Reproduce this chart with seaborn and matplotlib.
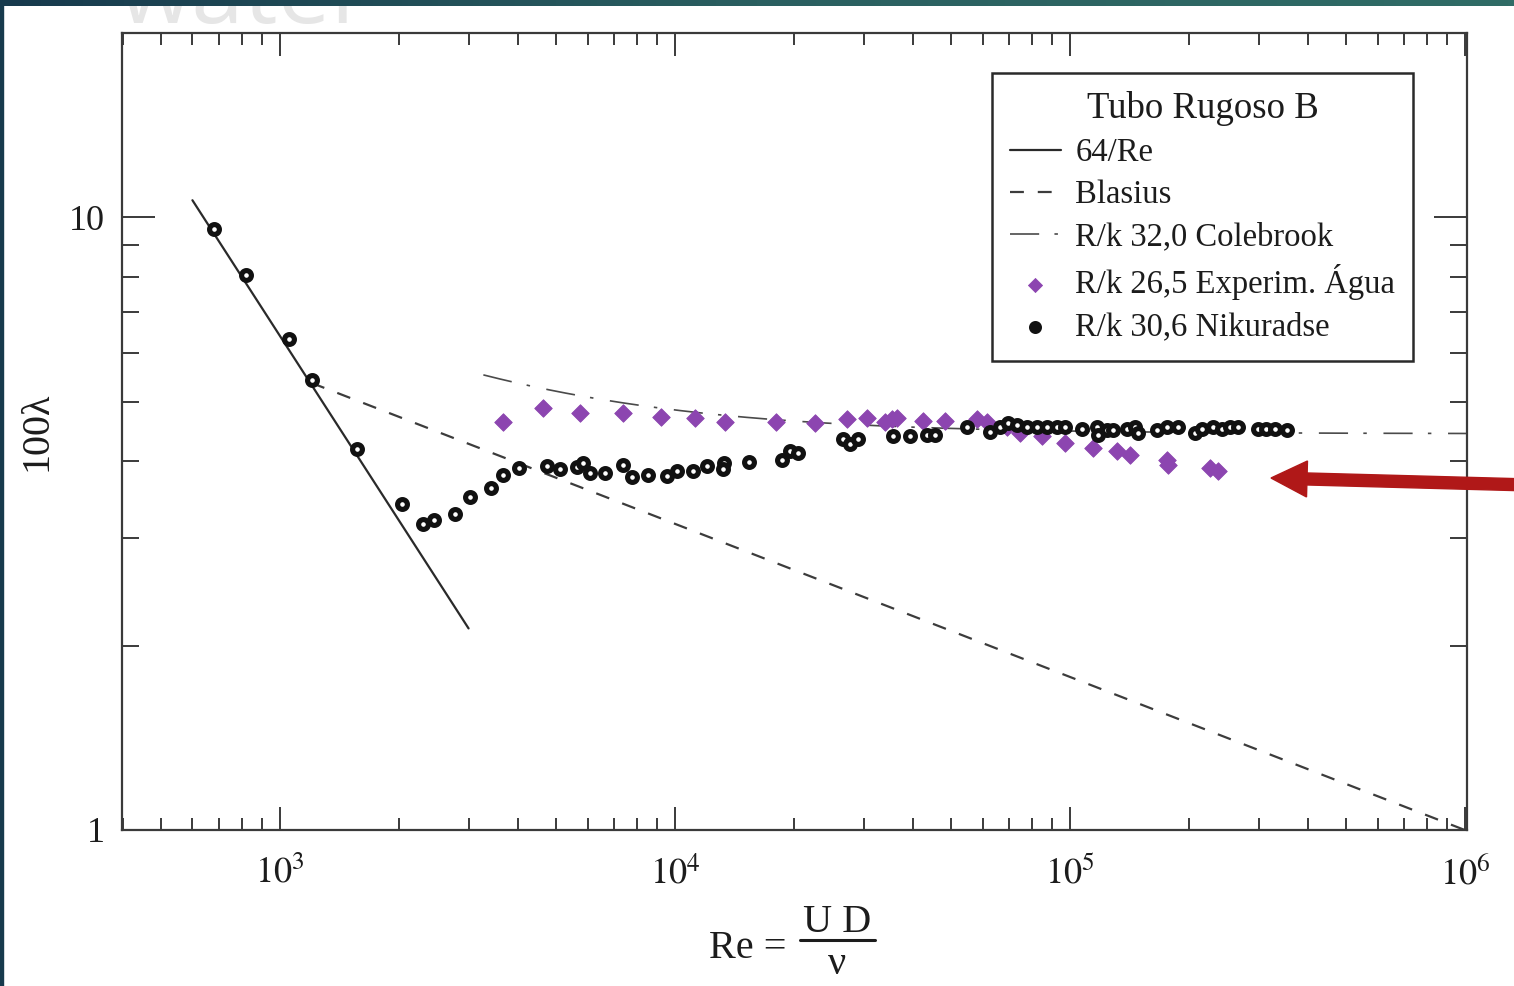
import numpy as np
import matplotlib
matplotlib.use("Agg")
import matplotlib.pyplot as plt
import seaborn as sns
from matplotlib.patches import FancyArrow, Rectangle
from matplotlib.lines import Line2D
from matplotlib.colors import LinearSegmentedColormap
from matplotlib.transforms import IdentityTransform
from matplotlib.ticker import LogLocator, NullFormatter, FixedLocator

# --- data -------------------------------------------------------------
# Nikuradse, R/k = 30.6
nik_re = [681, 820, 1054, 1205, 1566, 2037, 2301, 2455, 2773, 3027,
          3422, 3670, 4028, 4742, 5116, 5648, 5849, 6093, 6650, 7386,
          7783, 8543, 9544, 10120, 11110, 12050, 13310, 13200, 15390, 18660,
          19550, 20480, 26630, 27740, 29060, 35640, 39340, 43450, 45520, 54860,
          62730, 66510, 69670, 73410, 77830, 82510, 87450, 92700, 97120, 107300,
          117100, 117700, 124100, 128500, 139400, 146100, 148700, 166100, 176100, 187700,
          207300, 215900, 230200, 242600, 254200, 266300, 299200, 313500, 330400, 354300]
nik_f = [9.56, 8.04, 6.32, 5.42, 4.19, 3.41, 3.16, 3.21, 3.28, 3.49,
         3.62, 3.80, 3.90, 3.93, 3.89, 3.92, 3.98, 3.82, 3.83, 3.95,
         3.77, 3.80, 3.79, 3.86, 3.85, 3.93, 3.98, 3.88, 3.99, 4.02,
         4.16, 4.12, 4.34, 4.26, 4.35, 4.39, 4.39, 4.42, 4.42, 4.54,
         4.47, 4.55, 4.62, 4.59, 4.54, 4.55, 4.54, 4.54, 4.54, 4.52,
         4.55, 4.42, 4.50, 4.50, 4.52, 4.55, 4.45, 4.50, 4.55, 4.55,
         4.45, 4.52, 4.54, 4.52, 4.54, 4.55, 4.52, 4.52, 4.52, 4.50]

# water experiment, R/k = 26.5
agua_re = [3670, 4630, 5750, 7390, 9220, 11240, 13390, 18020, 22620, 27250,
           30640, 34010, 35430, 36480, 42460, 48260, 58160, 61650, 69260, 74690,
           84950, 97120, 114300, 131500, 141900, 176100, 177100, 226100, 236900]
agua_f = [4.64, 4.89, 4.80, 4.80, 4.73, 4.71, 4.64, 4.64, 4.62, 4.68,
          4.71, 4.64, 4.68, 4.71, 4.66, 4.66, 4.68, 4.64, 4.55, 4.45,
          4.39, 4.29, 4.21, 4.15, 4.10, 4.02, 3.95, 3.90, 3.86]

# ranges of the reference laws
re_laminar = [600, 3000]
re_blasius = [1200, 1.0e6]
re_colebrook = [3270, 1.01e6]
rk_colebrook = 32.0

labels = ["64/Re", "Blasius", "R/k 32,0 Colebrook",
          "R/k 26,5 Experim. Água", "R/k 30,6 Nikuradse"]
legend_title = "Tubo Rugoso B"

x_ticks = [1e3, 1e4, 1e5, 1e6]
x_tick_labels = [r"$10^3$", r"$10^4$", r"$10^5$", r"$10^6$"]
y_ticks = [1, 10]
y_tick_labels = ["1", "10"]


def laminar(re):
    return 100 * 64.0 / re


def blasius(re):
    return 100 * 0.316 / re ** 0.25


def colebrook(re, rk):
    rel = 1.0 / (2.0 * rk * 3.7)
    lam = np.full_like(re, 0.04, dtype=float)
    for _ in range(60):
        lam = (-2.0 * np.log10(rel + 2.51 / (re * np.sqrt(lam)))) ** -2
    return 100 * lam


# --- style ------------------------------------------------------------
sns.set_style("white")
plt.rcParams["font.family"] = ["Liberation Serif", "DejaVu Serif"]
plt.rcParams["mathtext.fontset"] = "stix"
plt.rcParams["lines.scale_dashes"] = False

ink = "#1c1c1c"
frame = "#3a3a3a"
purple = "#8c45b0"

W, H = 1514, 986
fig = plt.figure(figsize=(W / 100, H / 100), dpi=100)
fig.patch.set_facecolor("white")
ax = fig.add_axes([122 / W, 156 / H, 1345 / W, 797 / H])

# --- reference laws ---------------------------------------------------
x_lam = np.geomspace(*re_laminar, 50)
x_bla = np.geomspace(*re_blasius, 50)
x_col = np.geomspace(*re_colebrook, 300)

sns.lineplot(x=x_lam, y=laminar(x_lam), ax=ax, color="#2a2a2a", lw=1.6,
             errorbar=None, legend=False)
sns.lineplot(x=x_bla, y=blasius(x_bla), ax=ax, color="#3c3c3c", lw=1.6,
             linestyle=(0, (10, 10)), errorbar=None, legend=False)
sns.lineplot(x=x_col, y=colebrook(x_col, rk_colebrook), ax=ax, color="#4a4a4a",
             lw=1.2, linestyle=(0, (21, 11, 2.5, 12)), errorbar=None, legend=False)
law_lines = list(ax.lines)

# --- measurements -----------------------------------------------------
sns.scatterplot(x=agua_re, y=agua_f, ax=ax, marker="D", s=80, color=purple,
                edgecolor=purple, linewidth=0.6, legend=False, zorder=3)
sns.scatterplot(x=nik_re, y=nik_f, ax=ax, marker="o", s=50, facecolor="white",
                edgecolor="#111111", linewidth=3.7, legend=False, zorder=4)

# --- axes -------------------------------------------------------------
ax.set_xscale("log")
ax.set_yscale("log")
ax.set_xlim(398, 1.01e6)
ax.set_ylim(1, 20)

ax.xaxis.set_major_locator(FixedLocator(x_ticks))
ax.set_xticklabels(x_tick_labels)
ax.yaxis.set_major_locator(FixedLocator(y_ticks))
ax.set_yticklabels(y_tick_labels)
ax.xaxis.set_minor_locator(LogLocator(base=10, subs=np.arange(2, 10)))
ax.yaxis.set_minor_locator(LogLocator(base=10, subs=np.arange(2, 10)))
ax.xaxis.set_minor_formatter(NullFormatter())
ax.yaxis.set_minor_formatter(NullFormatter())

ax.tick_params(which="both", direction="in", top=True, right=True,
               bottom=True, left=True, width=1.4, color=frame,
               labelsize=26, labelcolor=ink)
ax.tick_params(axis="x", which="major", length=16.5, pad=19)
ax.tick_params(axis="x", which="minor", length=8.6)
ax.tick_params(axis="y", which="major", length=24, pad=12)
ax.tick_params(axis="y", which="minor", length=12)

for sp in ax.spines.values():
    sp.set_color(frame)
    sp.set_linewidth(1.6)
    sp.set_visible(True)

ax.set_ylabel("100λ", fontsize=29, color=ink, labelpad=10)

# x label: Re = U D / ν, set as a stacked fraction
fig.text(748 / W, 1 - 948 / H, "Re =", fontsize=29, color=ink,
         ha="center", va="center")
fig.text(837 / W, 1 - 922 / H, "U D", fontsize=29, color=ink,
         ha="center", va="center")
fig.text(837 / W, 1 - 965 / H, "ν", fontsize=29, color=ink,
         ha="center", va="center")
fig.add_artist(Line2D([800 / W, 875 / W], [1 - 940 / H, 1 - 940 / H],
                      transform=fig.transFigure, color=ink, lw=2.2))

# --- legend -----------------------------------------------------------
agua_handle, nik_handle = ax.collections[-2], ax.collections[-1]
handles = law_lines + [agua_handle, nik_handle]
leg = ax.legend(handles, labels, title=legend_title, loc="upper right",
                bbox_to_anchor=(0.960, 0.950), borderaxespad=0,
                fontsize=23.5, title_fontsize=26.5, frameon=True, fancybox=False,
                edgecolor="#2a2a2a", framealpha=1, handlelength=1.55,
                handletextpad=0.45, labelspacing=0.36, borderpad=0.55,
                markerscale=0.8)
leg.get_frame().set_linewidth(1.8)
for t in leg.get_texts():
    t.set_color(ink)
leg.get_title().set_color(ink)
leg.legend_handles[4].set_facecolor("#111111")

# --- slide decoration -------------------------------------------------
fig.text(119 / W, 1 - 23 / H, "water", fontsize=68, color="#e6e6e6",
         family="Open Sans", ha="left", va="baseline", zorder=1)
bar = fig.add_axes([0, 1 - 6 / H, 1, 6 / H], zorder=10)
grad = np.linspace(0, 1, 256).reshape(1, -1)
bar.imshow(grad, aspect="auto",
           cmap=LinearSegmentedColormap.from_list("band", ["#173a4d", "#2a5f60", "#306c66"]))
bar.set_axis_off()
fig.add_artist(Rectangle((0, 0), 3 / W, 1, transform=fig.transFigure,
                         color="#173a4d", zorder=10))

arrow = FancyArrow(1530, H - 485, -259, 7, width=12, head_width=36,
                   head_length=36, length_includes_head=True,
                   color="#b01818", transform=IdentityTransform(), zorder=20)
fig.add_artist(arrow)

fig.savefig("out.png", dpi=100)
